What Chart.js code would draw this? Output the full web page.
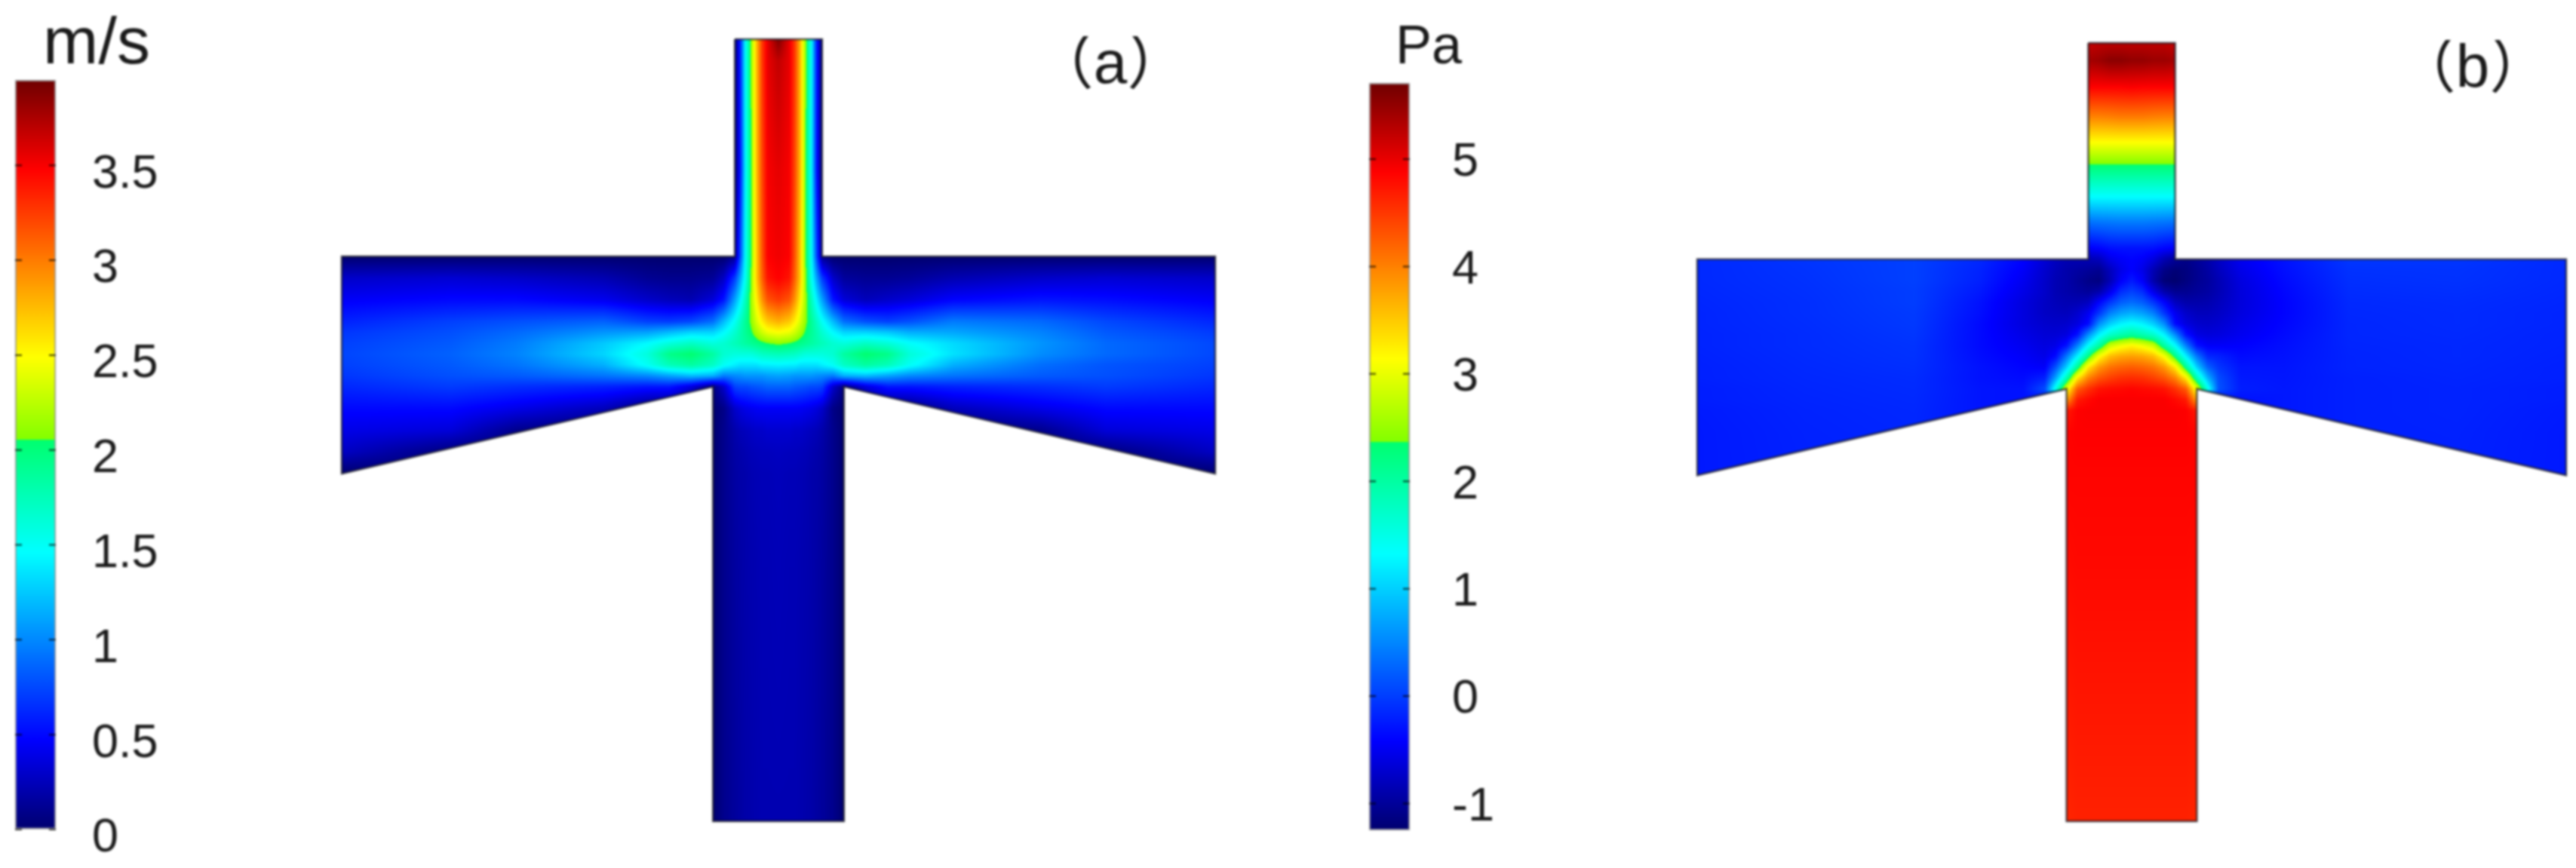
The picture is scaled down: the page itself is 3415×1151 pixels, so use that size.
<!DOCTYPE html>
<html>
<head>
<meta charset="utf-8">
<title>Velocity and pressure fields</title>
<script src="https://cdn.jsdelivr.net/npm/chart.js@4/dist/chart.umd.min.js"></script>
<style>
  html, body { margin: 0; background: #fff; }
  body { width: 3415px; height: 1151px; position: relative; overflow: hidden; }
  canvas { position: absolute; filter: blur(1.5px); }
</style>
</head>
<body>
<canvas id="speedBar" style="left:0;top:0" width="330" height="1151"></canvas>
<canvas id="speedField" style="left:449px;top:48px" width="1166" height="1045"></canvas>
<canvas id="pressureBar" style="left:1780px;top:0" width="330" height="1151"></canvas>
<canvas id="pressureField" style="left:2246px;top:53px" width="1160" height="1040"></canvas>
<script>
// rainbow colour table, position along the bar and rgb
const colorPos = [0, 0.12, 0.37, 0.52, 0.52, 0.63, 0.88, 1];
const colorRgb = [[0,0,110],[0,0,255],[0,255,255],[0,255,110],[130,255,0],[255,255,0],[255,0,0],[110,0,0]];

// channel outline, same for both fields
const wallX = [-2, 2, 2, 20, 20, 3, 3, -3, -3, -20, -20, -2, -2];
const wallY = [10, 10, 0, 0, -10, -6, -26, -26, -6, -10, 0, 0, 10];

const speedRange = [0, 3.95];
const speedTicks = [0, 0.5, 1, 1.5, 2, 2.5, 3, 3.5];
const pressureRange = [-1.25, 5.71];
const pressureTicks = [-1, 0, 1, 2, 3, 4, 5];

// velocity magnitude (m/s)
const speedX = [-20,-15,-12,-8,-6,-5,-4,-3,-2.5,-2,-1.75,-1.5,-1.25,-1,-.75,-.5,0,.5,.75,1,1.25,1.5,1.75,2,2.5,3,4,5,6,8,12,15,20];
const speedY = [10,9,4,0,-1,-2,-3,-3.5,-4,-4.5,-5,-5.5,-6,-7,-8,-9,-10,-14,-26];
const speedRows = [
  [0,0,0,0,0,0,0,0,0,0,.6,1.5,2.1,2.75,3.25,3.55,3.9,3.55,3.25,2.75,2.1,1.5,.6,0,0,0,0,0,0,0,0,0,0],
  [0,0,0,0,0,0,0,0,0,0,.6,1.5,2.1,2.75,3.25,3.55,3.68,3.55,3.25,2.75,2.1,1.5,.6,0,0,0,0,0,0,0,0,0,0],
  [0,0,0,0,0,0,0,0,0,0,.55,1.45,2.05,2.75,3.2,3.5,3.56,3.5,3.2,2.75,2.05,1.45,.55,0,0,0,0,0,0,0,0,0,0],
  [0,0,0,0,0,0,0,0,0,.1,.75,1.5,2.05,2.7,3.15,3.48,3.52,3.48,3.15,2.7,2.05,1.5,.75,.1,0,0,0,0,0,0,0,0,0],
  [.3,.33,.3,.22,.12,.1,.1,.13,.28,.7,1.1,1.55,2.1,2.7,3.1,3.4,3.48,3.4,3.1,2.7,2.1,1.55,1.1,.7,.3,.15,.12,.12,.14,.22,.3,.33,.3],
  [.45,.5,.5,.42,.3,.25,.22,.35,.55,1.1,1.4,1.75,2.15,2.55,2.9,3.15,3.25,3.15,2.9,2.55,2.15,1.75,1.4,1.1,.55,.35,.25,.3,.35,.48,.55,.52,.45],
  [.6,.72,.78,.85,.72,.7,.75,.9,1.2,1.5,1.7,1.9,2.1,2.35,2.55,2.7,2.8,2.7,2.55,2.35,2.1,1.9,1.7,1.5,1.2,.9,.78,.72,.78,.95,.88,.75,.62],
  [.68,.78,.88,1.05,1.1,1.2,1.3,1.3,1.45,1.65,1.78,1.9,2.02,2.18,2.32,2.42,2.48,2.42,2.32,2.18,2.02,1.9,1.78,1.65,1.45,1.3,1.3,1.25,1.15,1.12,.98,.82,.7],
  [.72,.82,.95,1.25,1.45,1.6,1.7,1.6,1.65,1.75,1.8,1.85,1.9,1.95,2,2.05,2.1,2.05,2,1.95,1.9,1.85,1.8,1.75,1.65,1.6,1.7,1.62,1.48,1.32,1.05,.88,.75],
  [.74,.85,.98,1.3,1.6,1.95,2.05,1.85,1.65,1.6,1.6,1.6,1.6,1.65,1.7,1.72,1.75,1.72,1.7,1.65,1.6,1.6,1.6,1.6,1.65,1.85,2.05,1.95,1.62,1.35,1.02,.88,.75],
  [.72,.82,.92,1.15,1.5,1.75,1.85,1.7,1.5,1.4,1.35,1.35,1.35,1.35,1.4,1.4,1.42,1.4,1.4,1.35,1.35,1.35,1.35,1.4,1.5,1.7,1.85,1.75,1.5,1.15,.9,.8,.72],
  [.68,.78,.82,.92,1,1.1,1.2,1.15,.95,1,1.02,1.05,1.05,1.05,1.05,1.08,1.1,1.08,1.05,1.05,1.05,1.05,1.02,1,.95,1.15,1.2,1.1,1,.92,.82,.78,.68],
  [.62,.7,.65,.6,.55,.55,.35,.05,.3,.72,.75,.75,.78,.8,.82,.85,.85,.85,.82,.8,.78,.75,.75,.72,.3,.05,.35,.55,.55,.6,.65,.7,.62],
  [.5,.5,.4,.25,.05,0,0,0,.08,.3,.36,.4,.42,.44,.45,.45,.45,.45,.45,.44,.42,.4,.36,.3,.08,0,0,0,.05,.25,.4,.5,.5],
  [.4,.35,.1,0,0,0,0,0,.1,.2,.24,.26,.28,.3,.3,.32,.32,.32,.3,.3,.28,.26,.24,.2,.1,0,0,0,0,0,.1,.35,.4],
  [.28,.05,0,0,0,0,0,0,.1,.18,.2,.22,.24,.25,.26,.26,.27,.26,.26,.25,.24,.22,.2,.18,.1,0,0,0,0,0,0,.05,.28],
  [0,0,0,0,0,0,0,0,.1,.17,.19,.2,.22,.23,.24,.24,.25,.24,.24,.23,.22,.2,.19,.17,.1,0,0,0,0,0,0,0,0],
  [0,0,0,0,0,0,0,0,.1,.16,.18,.2,.21,.22,.23,.23,.24,.23,.23,.22,.21,.2,.18,.16,.1,0,0,0,0,0,0,0,0],
  [0,0,0,0,0,0,0,0,.1,.15,.17,.19,.2,.21,.22,.22,.22,.22,.22,.21,.2,.19,.17,.15,.1,0,0,0,0,0,0,0,0]
];

// pressure (Pa)
const pressureX = [-20,-15,-10,-7,-5,-4,-3.5,-3,-2.5,-2,-1.5,-1,-.5,0,.5,1,1.5,2,2.5,3,3.5,4,5,7,10,15,20];
const pressureY = [10,9.2,8,6.6,5.4,4.4,2.9,1.7,.5,0,-.5,-1,-1.5,-2,-2.5,-3,-3.5,-4,-4.5,-5,-5.5,-6,-6.5,-7,-8,-10,-14,-26];
const pressureRows = [
  [0,0,0,0,0,0,0,0,0,5.2,5.25,5.25,5.25,5.25,5.25,5.25,5.25,5.2,0,0,0,0,0,0,0,0,0],
  [0,0,0,0,0,0,0,0,0,5.4,5.45,5.55,5.55,5.5,5.5,5.45,5.45,5.4,0,0,0,0,0,0,0,0,0],
  [0,0,0,0,0,0,0,0,0,4.9,4.9,4.9,4.9,4.92,4.9,4.9,4.9,4.9,0,0,0,0,0,0,0,0,0],
  [0,0,0,0,0,0,0,0,0,4,4,4.02,4.05,4.05,4.05,4.02,4,4,0,0,0,0,0,0,0,0,0],
  [0,0,0,0,0,0,0,0,0,3.13,3.13,3.13,3.13,3.13,3.13,3.13,3.13,3.13,0,0,0,0,0,0,0,0,0],
  [0,0,0,0,0,0,0,0,0,2.37,2.37,2.37,2.37,2.37,2.37,2.37,2.37,2.37,0,0,0,0,0,0,0,0,0],
  [0,0,0,0,0,0,0,0,0,1.33,1.33,1.33,1.33,1.33,1.33,1.33,1.33,1.33,0,0,0,0,0,0,0,0,0],
  [0,0,0,0,0,0,0,0,0,.35,.38,.4,.42,.42,.42,.4,.38,.35,0,0,0,0,0,0,0,0,0],
  [0,0,0,0,0,0,0,0,0,-.45,-.4,-.32,-.3,-.3,-.3,-.32,-.4,-.45,0,0,0,0,0,0,0,0,0],
  [-.14,-.06,.02,-.15,-.4,-.65,-.78,-.85,-.85,-.85,-.8,-.55,-.45,-.4,-.45,-.6,-.85,-1,-1.1,-1,-.9,-.75,-.5,-.3,-.05,-.05,-.14],
  [-.14,-.07,.02,-.18,-.45,-.7,-.82,-.9,-.95,-1,-1.05,-.8,-.55,-.42,-.55,-.85,-1.1,-1.2,-1.15,-1.05,-.95,-.8,-.55,-.32,-.08,-.07,-.14],
  [-.14,-.08,.02,-.2,-.5,-.72,-.85,-.9,-1,-1.1,-1.15,-.85,-.45,-.25,-.45,-.9,-1.2,-1.25,-1.15,-1.05,-.98,-.85,-.6,-.35,-.1,-.08,-.14],
  [-.15,-.09,0,-.25,-.55,-.72,-.85,-.9,-.95,-1,-.9,-.55,-.12,.02,-.12,-.55,-.9,-1.05,-1.05,-1,-.95,-.85,-.62,-.38,-.12,-.1,-.15],
  [-.16,-.1,0,-.3,-.6,-.75,-.82,-.85,-.85,-.78,-.4,-.05,.22,.32,.22,-.05,-.4,-.78,-.9,-.9,-.88,-.8,-.62,-.4,-.14,-.12,-.16],
  [-.17,-.1,-.02,-.32,-.6,-.75,-.78,-.8,-.7,-.5,-.05,.45,.68,.78,.68,.45,-.05,-.5,-.72,-.8,-.8,-.75,-.6,-.4,-.15,-.13,-.17],
  [-.17,-.11,-.03,-.35,-.6,-.7,-.72,-.7,-.6,-.35,.55,1,1.25,1.36,1.25,1,.55,-.35,-.6,-.7,-.72,-.68,-.55,-.38,-.16,-.13,-.17],
  [-.18,-.12,-.05,-.35,-.55,-.65,-.65,-.6,-.3,.55,1.25,1.7,1.9,2.05,1.9,1.7,1.25,.55,-.3,-.58,-.62,-.6,-.5,-.35,-.16,-.14,-.18],
  [-.18,-.12,-.07,-.35,-.5,-.6,-.55,-.3,.45,1.33,2,2.8,3.05,3.2,3.05,2.8,2,1.33,.45,-.3,-.45,-.45,-.42,-.32,-.17,-.15,-.18],
  [-.19,-.13,-.08,-.33,-.45,-.55,-.35,.4,1.25,2.2,3.13,3.6,3.75,3.8,3.75,3.6,3.13,2.2,1.25,.4,-.15,-.2,-.35,-.3,-.18,-.15,-.19],
  [-.2,-.14,-.1,-.3,-.4,-.45,.15,1,2.1,3.3,3.85,4.1,4.2,4.25,4.2,4.1,3.85,3.3,2.1,1,.25,-.05,-.28,-.28,-.18,-.16,-.2],
  [-.2,-.15,-.12,-.3,-.35,-.2,.7,1.85,3.3,4,4.3,4.45,4.55,4.58,4.55,4.45,4.3,4,3.3,1.85,.8,.1,-.25,-.27,-.2,-.17,-.2],
  [-.22,-.16,-.13,-.28,-.3,.1,1.5,3,4.25,4.55,4.75,4.8,4.82,4.85,4.82,4.8,4.75,4.55,4.25,3,1.5,.15,-.22,-.26,-.2,-.18,-.22],
  [-.22,-.17,-.14,-.28,-.3,-.3,-.3,3.8,4.7,4.82,4.9,4.9,4.9,4.9,4.9,4.9,4.9,4.82,4.7,3.8,-.3,-.3,-.3,-.26,-.2,-.18,-.22],
  [-.24,-.18,-.15,-.28,-.3,-.3,-.3,4.7,4.88,4.9,4.9,4.9,4.9,4.9,4.9,4.9,4.9,4.9,4.88,4.7,-.3,-.3,-.3,-.26,-.2,-.18,-.24],
  [-.25,-.19,-.16,-.28,-.3,-.3,-.3,4.85,4.88,4.88,4.88,4.88,4.88,4.88,4.88,4.88,4.88,4.88,4.88,4.85,-.3,-.3,-.3,-.26,-.2,-.19,-.25],
  [-.25,-.2,-.2,-.28,-.3,-.3,-.3,4.85,4.85,4.85,4.85,4.85,4.85,4.85,4.85,4.85,4.85,4.85,4.85,4.85,-.3,-.3,-.3,-.26,-.2,-.2,-.25],
  [0,0,0,0,0,0,0,4.8,4.82,4.82,4.82,4.82,4.82,4.82,4.82,4.82,4.82,4.82,4.82,4.8,0,0,0,0,0,0,0],
  [0,0,0,0,0,0,0,4.62,4.65,4.65,4.65,4.65,4.65,4.65,4.65,4.65,4.65,4.65,4.65,4.62,0,0,0,0,0,0,0]
];

const fontFamily = '"Liberation Sans", "Noto Sans CJK SC", sans-serif';

// 1024 entry lookup so the field can be coloured per pixel
function buildLut() {
  const lut = new Uint8ClampedArray(1024 * 3);
  for (let i = 0; i < 1024; i++) {
    const t = i / 1023;
    let k = 0;
    while (k < colorPos.length - 2 && t > colorPos[k + 1]) k++;
    const span = colorPos[k + 1] - colorPos[k];
    const f = span > 0 ? Math.min(1, (t - colorPos[k]) / span) : 1;
    for (let c = 0; c < 3; c++) {
      lut[i * 3 + c] = colorRgb[k][c] + (colorRgb[k + 1][c] - colorRgb[k][c]) * f;
    }
  }
  return lut;
}
const lut = buildLut();

function nodeIndex(list, v, descending) {
  for (let i = 0; i < list.length - 1; i++) {
    if (descending ? v >= list[i + 1] : v <= list[i + 1]) return i;
  }
  return list.length - 2;
}

// paints the node values as a continuous field, clipped to the channel walls
const fieldShade = {
  id: 'fieldShade',
  beforeDatasetsDraw(chart, args, opts) {
    const { ctx, chartArea: a, scales: { x, y } } = chart;
    const nodes = chart.data.datasets[0].data;
    const xs = opts.xs, ys = opts.ys;
    const nx = xs.length;
    const w = Math.ceil(a.right - a.left), h = Math.ceil(a.bottom - a.top);
    const off = document.createElement('canvas');
    off.width = w; off.height = h;
    const octx = off.getContext('2d');
    const img = octx.createImageData(w, h);
    const colCache = [];
    for (let px = 0; px < w; px++) {
      const vx = x.getValueForPixel(a.left + px + 0.5);
      const i = nodeIndex(xs, vx, false);
      colCache.push([i, Math.min(1, Math.max(0, (vx - xs[i]) / (xs[i + 1] - xs[i])))]);
    }
    for (let py = 0; py < h; py++) {
      const vy = y.getValueForPixel(a.top + py + 0.5);
      const j = nodeIndex(ys, vy, true);
      const fy = Math.min(1, Math.max(0, (ys[j] - vy) / (ys[j] - ys[j + 1])));
      for (let px = 0; px < w; px++) {
        const [i, fx] = colCache[px];
        const v00 = nodes[j * nx + i].v, v10 = nodes[j * nx + i + 1].v;
        const v01 = nodes[(j + 1) * nx + i].v, v11 = nodes[(j + 1) * nx + i + 1].v;
        const v = (v00 * (1 - fx) + v10 * fx) * (1 - fy) + (v01 * (1 - fx) + v11 * fx) * fy;
        const t = Math.min(1, Math.max(0, (v - opts.range[0]) / (opts.range[1] - opts.range[0])));
        const k = Math.round(t * 1023) * 3;
        const o = (py * w + px) * 4;
        img.data[o] = lut[k]; img.data[o + 1] = lut[k + 1]; img.data[o + 2] = lut[k + 2]; img.data[o + 3] = 255;
      }
    }
    octx.putImageData(img, 0, 0);
    ctx.save();
    ctx.beginPath();
    wallX.forEach((vx, n) => {
      const px = x.getPixelForValue(vx), py = y.getPixelForValue(wallY[n]);
      if (n === 0) ctx.moveTo(px, py); else ctx.lineTo(px, py);
    });
    ctx.closePath();
    ctx.clip();
    ctx.drawImage(off, a.left, a.top);
    ctx.restore();
  }
};

// unit labels and panel letters, position given in canvas pixels
const captions = {
  id: 'captions',
  afterDraw(chart, args, opts) {
    const ctx = chart.ctx;
    ctx.save();
    ctx.fillStyle = '#1a1a1a';
    ctx.textAlign = 'center';
    ctx.textBaseline = 'alphabetic';
    ctx.font = opts.size + 'px ' + fontFamily;
    ctx.fillText(opts.text, opts.x, opts.y);
    ctx.restore();
  }
};

// short tick marks on the inside of both bar edges
const barTicks = {
  id: 'barTicks',
  afterDatasetsDraw(chart) {
    const { ctx, chartArea: a, scales: { y } } = chart;
    ctx.save();
    ctx.strokeStyle = 'rgba(0,0,0,.75)';
    ctx.lineWidth = 2;
    y.ticks.forEach(t => {
      const py = y.getPixelForValue(t.value);
      ctx.beginPath();
      ctx.moveTo(a.left, py); ctx.lineTo(a.left + 9, py);
      ctx.moveTo(a.right - 9, py); ctx.lineTo(a.right, py);
      ctx.stroke();
    });
    ctx.restore();
  }
};

function makeField(id, xs, ys, rows, range, caption, pad) {
  const nodes = [];
  ys.forEach((vy, j) => xs.forEach((vx, i) => nodes.push({ x: vx, y: vy, v: rows[j][i] })));
  new Chart(document.getElementById(id), {
    type: 'scatter',
    data: {
      datasets: [
        { data: nodes, pointRadius: 0, showLine: false },
        {
          data: wallX.map((vx, n) => ({ x: vx, y: wallY[n] })),
          showLine: true, pointRadius: 0, tension: 0, clip: false,
          borderColor: 'rgba(25,25,35,.75)', borderWidth: 2.5, fill: false
        }
      ]
    },
    options: {
      responsive: false, animation: false, devicePixelRatio: 1,
      layout: { padding: pad },
      scales: {
        x: { type: 'linear', min: -20, max: 20, display: false },
        y: { type: 'linear', min: -26, max: 10, display: false }
      },
      plugins: {
        legend: { display: false }, tooltip: { enabled: false },
        fieldShade: { xs, ys, range },
        captions: caption
      }
    },
    plugins: [fieldShade, captions]
  });
}

function makeBar(id, range, ticks, caption, pad, labelOffset, labelGap) {
  new Chart(document.getElementById(id), {
    type: 'bar',
    data: {
      labels: [caption.text],
      datasets: [{
        data: [range],
        barPercentage: 1, categoryPercentage: 1,
        borderColor: 'rgba(0,0,0,.4)', borderWidth: 2, borderSkipped: false,
        backgroundColor(c) {
          const s = c.chart.scales.y;
          if (!c.chart.chartArea) return '#00f';
          const g = c.chart.ctx.createLinearGradient(0, s.getPixelForValue(range[0]), 0, s.getPixelForValue(range[1]));
          colorPos.forEach((p, n) => g.addColorStop(p, 'rgb(' + colorRgb[n].join(',') + ')'));
          return g;
        }
      }]
    },
    options: {
      responsive: false, animation: false, devicePixelRatio: 1,
      layout: { padding: pad },
      scales: {
        x: { display: false },
        y: {
          position: 'right', min: range[0], max: range[1],
          afterBuildTicks(s) { s.ticks = ticks.map(v => ({ value: v })); },
          afterFit(s) {
            s.width = 330 - pad.left - 54;
            s.paddingTop = 0;
            s.paddingBottom = 0;
          },
          grid: { drawOnChartArea: false, drawTicks: false },
          border: { display: false },
          ticks: {
            padding: labelGap, crossAlign: 'near', labelOffset, color: '#1a1a1a', autoSkip: false,
            font: { family: fontFamily, size: 63 },
            callback: v => String(v)
          }
        }
      },
      plugins: { legend: { display: false }, tooltip: { enabled: false }, captions: caption }
    },
    plugins: [barTicks, captions]
  });
}

makeBar('speedBar', speedRange, speedTicks, { text: 'm/s', x: 128, y: 84, size: 88 }, { left: 20, top: 106, bottom: 51, right: 0 }, 12, 48);
makeField('speedField', speedX, speedY, speedRows, speedRange, { text: '（a）', x: 1023, y: 62, size: 80 }, 4);
makeBar('pressureBar', pressureRange, pressureTicks, { text: 'Pa', x: 114, y: 84, size: 72 }, { left: 35, top: 110, bottom: 50, right: 0 }, 5, 56);
makeField('pressureField', pressureX, pressureY, pressureRows, pressureRange, { text: '（b）', x: 1032, y: 62, size: 80 }, 4);
</script>
</body>
</html>
